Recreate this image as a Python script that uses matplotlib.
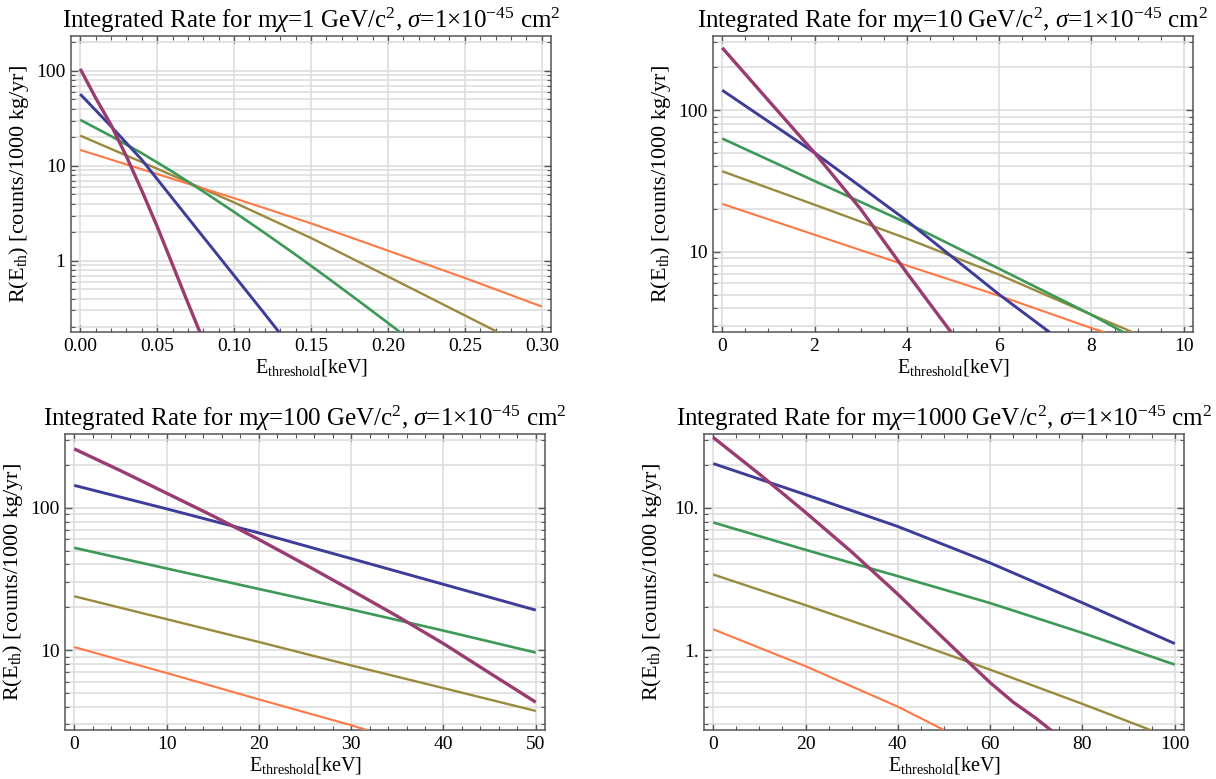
import matplotlib
matplotlib.use("Agg")
import matplotlib.pyplot as plt
from matplotlib.ticker import FixedLocator, FixedFormatter, MultipleLocator, LogLocator, NullFormatter

plt.rcParams["font.family"] = ["Liberation Serif", "DejaVu Serif"]
plt.rcParams["mathtext.fontset"] = "custom"
plt.rcParams["mathtext.rm"] = "Liberation Serif"
plt.rcParams["mathtext.it"] = "Liberation Serif:italic"

# ---- data (x in keV, rate in counts/1000 kg/yr) ----
masses = ["1", "10", "100", "1000"]

# m = 1 GeV
x1_purple = [0, 0.01, 0.02, 0.03, 0.04, 0.05, 0.06, 0.07, 0.08]
y1_purple = [105, 52, 27, 12.6, 5.5, 2.3, 0.91, 0.36, 0.145]
x1_blue = [0, 0.02, 0.04, 0.06, 0.08, 0.10, 0.12, 0.13]
y1_blue = [56.9, 26.1, 11.6, 4.54, 1.78, 0.70, 0.275, 0.171]
x1_green = [0, 0.02, 0.04, 0.06, 0.08, 0.10, 0.12, 0.14, 0.16, 0.18, 0.20, 0.21]
y1_green = [30.5, 20.6, 13.6, 8.67, 5.37, 3.27, 1.96, 1.16, 0.676, 0.389, 0.222, 0.167]
x1_olive = [0, 0.05, 0.10, 0.15, 0.20, 0.25, 0.275]
y1_olive = [20.8, 9.33, 4.12, 1.74, 0.684, 0.266, 0.166]
x1_orange = [0, 0.05, 0.10, 0.15, 0.20, 0.25, 0.30]
y1_orange = [14.7, 8.2, 4.57, 2.48, 1.28, 0.66, 0.33]

# m = 10 GeV
x2_purple = [0, 1, 2, 3, 4, 5]
y2_purple = [275, 117, 50, 20, 7.1, 2.6]
x2_blue = [0, 2, 4, 6, 7.1]
y2_blue = [138, 50, 16.6, 5.0, 2.7]
x2_green = [0, 2, 4, 6, 8, 8.7]
y2_green = [63, 31.6, 16.0, 7.6, 3.6, 2.7]
x2_olive = [0, 2, 4, 6, 8, 9]
y2_olive = [37, 21.5, 12.4, 6.9, 3.6, 2.62]
x2_orange = [0, 2, 4, 6, 8, 8.3]
y2_orange = [21.8, 13.2, 8.0, 4.9, 2.9, 2.7]

# m = 100 GeV
x3 = [0, 10, 20, 30, 40, 50]
x3_purple = [0, 5, 10, 15, 20, 25, 30, 35, 40, 45, 50]
y3_purple = [260, 183, 127, 88, 60, 40, 26.4, 17.3, 11.1, 6.9, 4.3]
y3_blue = [144, 98.5, 66.7, 44, 29, 19.1]
y3_green = [52.4, 37.5, 26.9, 19.3, 13.7, 9.6]
y3_olive = [23.9, 16.5, 11.4, 7.8, 5.4, 3.73]
x3_orange = [0, 10, 20, 30, 32]
y3_orange = [10.5, 6.9, 4.5, 2.96, 2.7]

# m = 1000 GeV
x4_purple = [0, 10, 20, 30, 40, 50, 55, 60, 65, 70, 74]
y4_purple = [31.3, 17.3, 9.3, 4.9, 2.47, 1.2, 0.84, 0.59, 0.43, 0.33, 0.26]
x4 = [0, 20, 40, 60, 80, 100]
y4_blue = [20.5, 12.4, 7.4, 4.1, 2.15, 1.11]
y4_green = [7.9, 5.07, 3.31, 2.14, 1.32, 0.79]
x4_olive = [0, 20, 40, 60, 80, 95]
y4_olive = [3.40, 2.07, 1.24, 0.728, 0.418, 0.272]
x4_orange = [0, 20, 40, 50]
y4_orange = [1.40, 0.77, 0.40, 0.274]

curves = [
    [(x1_olive, y1_olive), (x1_orange, y1_orange), (x1_green, y1_green), (x1_blue, y1_blue), (x1_purple, y1_purple)],
    [(x2_olive, y2_olive), (x2_orange, y2_orange), (x2_green, y2_green), (x2_blue, y2_blue), (x2_purple, y2_purple)],
    [(x3, y3_olive), (x3_orange, y3_orange), (x3, y3_green), (x3, y3_blue), (x3_purple, y3_purple)],
    [(x4_olive, y4_olive), (x4_orange, y4_orange), (x4, y4_green), (x4, y4_blue), (x4_purple, y4_purple)],
]
colors = ["#998b3d", "#ff7744", "#3d9956", "#3d3d99", "#993d71"]
widths = [1.7, 1.5, 1.9, 2.1, 2.4]

xlims = [(-0.006, 0.306), (-0.2, 10.2), (-1, 51), (-2, 102)]
ylims = [(0.178, 233), (2.72, 333), (2.74, 331), (0.274, 33.1)]
xmajor = [0.05, 2, 10, 20]
xminor = [0.01, 0.5, 2, 5]
xfmt = ["{:.2f}", "{:.0f}", "{:.0f}", "{:.0f}"]
yticks = [[1, 10, 100], [10, 100], [10, 100], [1, 10]]
ylabels = [["1", "10", "100"], ["10", "100"], ["10", "100"], ["1.", "10."]]

# axes boxes in pixels: left, top
W, H = 1216, 779
boxes = [(71, 36), (713, 36), (65, 434), (704, 434)]
bw, bh = 480, 296

fig = plt.figure(figsize=(W / 100, H / 100), dpi=100)

for i in range(4):
    left, top = boxes[i]
    ax = fig.add_axes([left / W, 1 - (top + bh) / H, bw / W, bh / H])
    for (xs, ys), c, lw in zip(curves[i], colors, widths):
        ax.plot(xs, ys, color=c, lw=lw, solid_capstyle="butt", zorder=3)
    ax.set_yscale("log")
    ax.set_xlim(*xlims[i])
    ax.set_ylim(*ylims[i])

    ax.xaxis.set_major_locator(MultipleLocator(xmajor[i]))
    ax.xaxis.set_minor_locator(MultipleLocator(xminor[i]))
    ax.xaxis.set_major_formatter(matplotlib.ticker.FuncFormatter(lambda v, p, f=xfmt[i]: f.format(v)))
    ax.yaxis.set_major_locator(FixedLocator(yticks[i]))
    ax.yaxis.set_major_formatter(FixedFormatter(ylabels[i]))
    ax.yaxis.set_minor_locator(LogLocator(base=10, subs=range(2, 10)))
    ax.yaxis.set_minor_formatter(NullFormatter())

    ax.grid(which="major", axis="x", color="#dedede", lw=1.2, zorder=0)
    ax.grid(which="both", axis="y", color="#dedede", lw=1.2, zorder=0)
    ax.set_axisbelow(True)

    ax.tick_params(which="both", direction="in", top=True, right=True, color="#555555",
                   labelsize=14, pad=4)
    ax.tick_params(which="major", length=5, width=1)
    ax.tick_params(which="minor", length=3, width=0.8)
    for s in ax.spines.values():
        s.set_color("#555555")
        s.set_linewidth(1.1)

    ax.set_title(r"Integrated Rate for m$\chi$=" + masses[i] +
                 r" GeV/c$^{2}$, $\sigma$=1$\times$10$^{-45}$ cm$^{2}$",
                 fontsize=18, pad=6)
    ax.set_xlabel(r"$\mathrm{E}_{\mathrm{threshold}}$[keV]", fontsize=14.5)
    ax.set_ylabel(r"R($\mathrm{E}_{\mathrm{th}}$) [counts/1000 kg/yr]", fontsize=16)
    ax.xaxis.set_label_coords(0.5, -0.085)
    ax.yaxis.set_label_coords(-0.083, 0.5)

plt.savefig("out.png", dpi=100)
